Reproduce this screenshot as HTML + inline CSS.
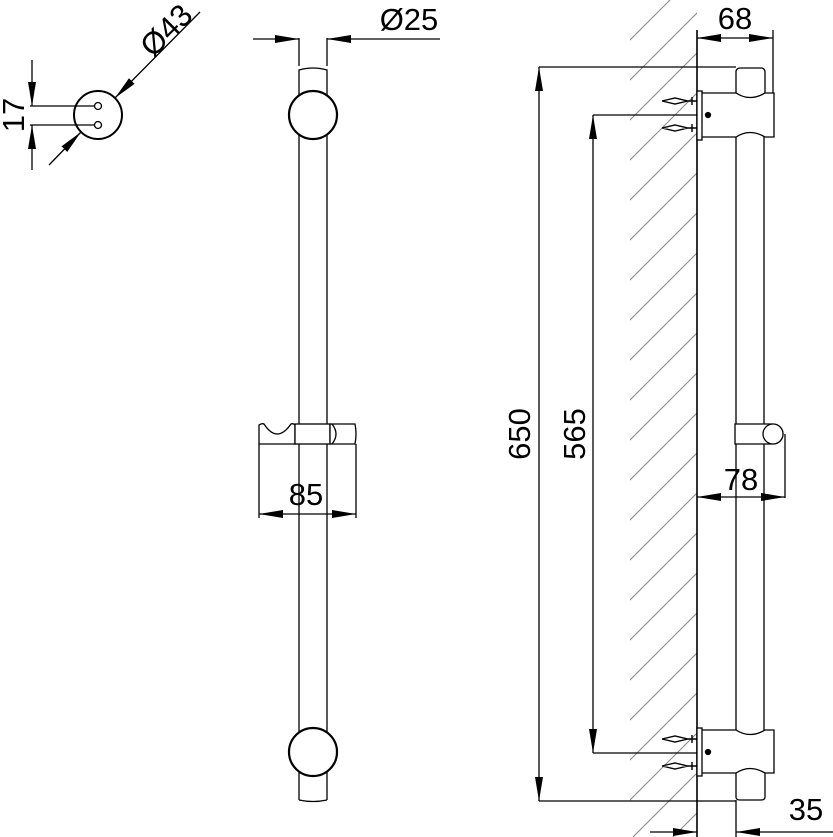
<!DOCTYPE html>
<html><head><style>html,body{margin:0;padding:0;background:#fff;overflow:hidden;width:833px;height:837px}svg{display:block}text{font-family:"Liberation Sans",Arial,sans-serif;font-size:31px;fill:#000}</style></head><body>
<svg width="833" height="837" viewBox="0 0 833 837" xmlns="http://www.w3.org/2000/svg">
<defs>
<marker id="a" markerWidth="24" markerHeight="8" refX="24" refY="4" orient="auto-start-reverse" markerUnits="userSpaceOnUse"><path d="M0,0 L24,4 L0,8 Z" fill="#000"/></marker>
<clipPath id="hc"><rect x="630" y="0" width="67" height="837"/></clipPath>
</defs>
<g fill="none" stroke="#000" stroke-width="1.3">
<circle cx="98" cy="115" r="24" stroke-width="2"/>
<circle cx="98" cy="106" r="3.5"/><circle cx="98" cy="125" r="3.5"/>
<line x1="30" y1="106" x2="95" y2="106"/><line x1="30" y1="125" x2="95" y2="125"/>
<line x1="32" y1="60" x2="32" y2="106" marker-end="url(#a)"/>
<line x1="32" y1="170" x2="32" y2="125" marker-end="url(#a)"/>
<line x1="200" y1="12" x2="115" y2="98" marker-end="url(#a)"/>
<line x1="49" y1="165" x2="81" y2="132" marker-end="url(#a)"/>
<path d="M299,800 L299,70 Q313,66 327,70 L327,800"/>
<path d="M299,800 Q313,803 327,800"/>
<circle cx="313" cy="115" r="24" fill="#fff" stroke-width="2.2"/>
<circle cx="313" cy="752" r="24" fill="#fff" stroke-width="2.2"/>
<line x1="299" y1="38" x2="299" y2="66"/><line x1="327" y1="38" x2="327" y2="66"/>
<line x1="253" y1="39" x2="299" y2="39" marker-end="url(#a)"/>
<line x1="440" y1="39" x2="327" y2="39" marker-end="url(#a)"/>
<path d="M259,444 L259,425 Q262,423 264,424 Q277,444 291,424 Q293,423 295,425 L295,444 Z" fill="#fff"/>
<rect x="295" y="424" width="35" height="20" fill="#fff"/>
<path d="M330,424 L355,424 Q357,434 355,444 L330,444 Z" fill="#fff"/>
<path d="M332,424 Q340,434 332,444"/>
<line x1="259" y1="444" x2="259" y2="518"/><line x1="356" y1="444" x2="356" y2="518"/>
<line x1="259" y1="514" x2="356" y2="514" marker-start="url(#a)" marker-end="url(#a)"/>
<g clip-path="url(#hc)" stroke="#888" stroke-width="1">
<path d="M600,80 L700,-20 M600,120 L700,20 M600,160 L700,60 M600,200 L700,100 M600,240 L700,140 M600,280 L700,180 M600,320 L700,220 M600,360 L700,260 M600,400 L700,300 M600,440 L700,340 M600,480 L700,380 M600,520 L700,420 M600,560 L700,460 M600,600 L700,500 M600,640 L700,540 M600,680 L700,580 M600,720 L700,620 M600,760 L700,660 M600,800 L700,700 M600,840 L700,740 M600,880 L700,780 M600,920 L700,820" transform="translate(0,-10)"/>
</g>
<line x1="697" y1="30" x2="697" y2="837" stroke-width="1.6"/>
<line x1="736" y1="98" x2="736" y2="770"/><line x1="764" y1="98" x2="764" y2="770"/>
<path d="M736,93 L736,71 Q737,68 740,68 L762,68 Q765,69 765,72 L765,93 M736,93 Q750,104 765,93"/>
<path d="M736,770 Q750,760 765,770 L765,797 Q765,800 761,800 L740,800 Q736,800 736,797 Z"/>
<path d="M701,93 L736,93 Q750,102 765,93 L774,93 L774,137 L765,137 Q750,128 736,137 L701,137 Z" fill="#fff"/>
<rect x="697" y="91" width="5" height="49" fill="#fff"/>
<circle cx="708" cy="115" r="2.5" fill="#000"/>
<path d="M662,101 L675,98 L688,101 L697,101 M662,101 L675,104 L688,101 M692,97 L692,105 M662,128 L675,125 L688,128 L697,128 M662,128 L675,131 L688,128 M692,124 L692,132" stroke-width="1.4"/>
<path d="M701,730 L736,730 Q750,739 765,730 L774,730 L774,773 L765,773 Q750,764 736,773 L701,773 Z" fill="#fff"/>
<rect x="697" y="728" width="5" height="48" fill="#fff"/>
<circle cx="708" cy="752" r="2.5" fill="#000"/>
<path d="M662,739 L675,736 L688,739 L697,739 M662,739 L675,742 L688,739 M692,735 L692,743 M662,766 L675,763 L688,766 L697,766 M662,766 L675,769 L688,766 M692,762 L692,770" stroke-width="1.4"/>
<path d="M735,424 L773,424 A10,10 0 0 1 773,444 L735,444 Z" fill="#fff"/>
<circle cx="773" cy="434" r="10" fill="#fff"/>
<line x1="785" y1="434" x2="785" y2="498"/>
<line x1="697" y1="497" x2="785" y2="497" marker-start="url(#a)" marker-end="url(#a)"/>
<line x1="773" y1="30" x2="773" y2="93"/>
<line x1="697" y1="38" x2="773" y2="38" marker-start="url(#a)" marker-end="url(#a)"/>
<line x1="736" y1="800" x2="736" y2="837"/>
<line x1="650" y1="832" x2="697" y2="832" marker-end="url(#a)"/>
<line x1="833" y1="832" x2="736" y2="832" marker-end="url(#a)"/>
<line x1="539" y1="67" x2="736" y2="67"/><line x1="539" y1="801" x2="736" y2="801"/>
<line x1="539" y1="67" x2="539" y2="801" marker-start="url(#a)" marker-end="url(#a)"/>
<line x1="593" y1="115" x2="697" y2="115"/><line x1="593" y1="753" x2="697" y2="753"/>
<line x1="593" y1="115" x2="593" y2="753" marker-start="url(#a)" marker-end="url(#a)"/>
</g>
<text x="13" y="115" text-anchor="middle" transform="rotate(-90 13 115)" dy="11">17</text>
<text x="166" y="30" text-anchor="middle" transform="rotate(-45 166 30)" dy="11">Ø43</text>
<text x="409" y="30" text-anchor="middle">Ø25</text>
<text x="306" y="505" text-anchor="middle">85</text>
<text x="735" y="29" text-anchor="middle">68</text>
<text x="741" y="490" text-anchor="middle">78</text>
<text x="806" y="820" text-anchor="middle">35</text>
<text x="519" y="434" text-anchor="middle" transform="rotate(-90 519 434)" dy="11">650</text>
<text x="574" y="434" text-anchor="middle" transform="rotate(-90 574 434)" dy="11">565</text>
</svg>
</body></html>
